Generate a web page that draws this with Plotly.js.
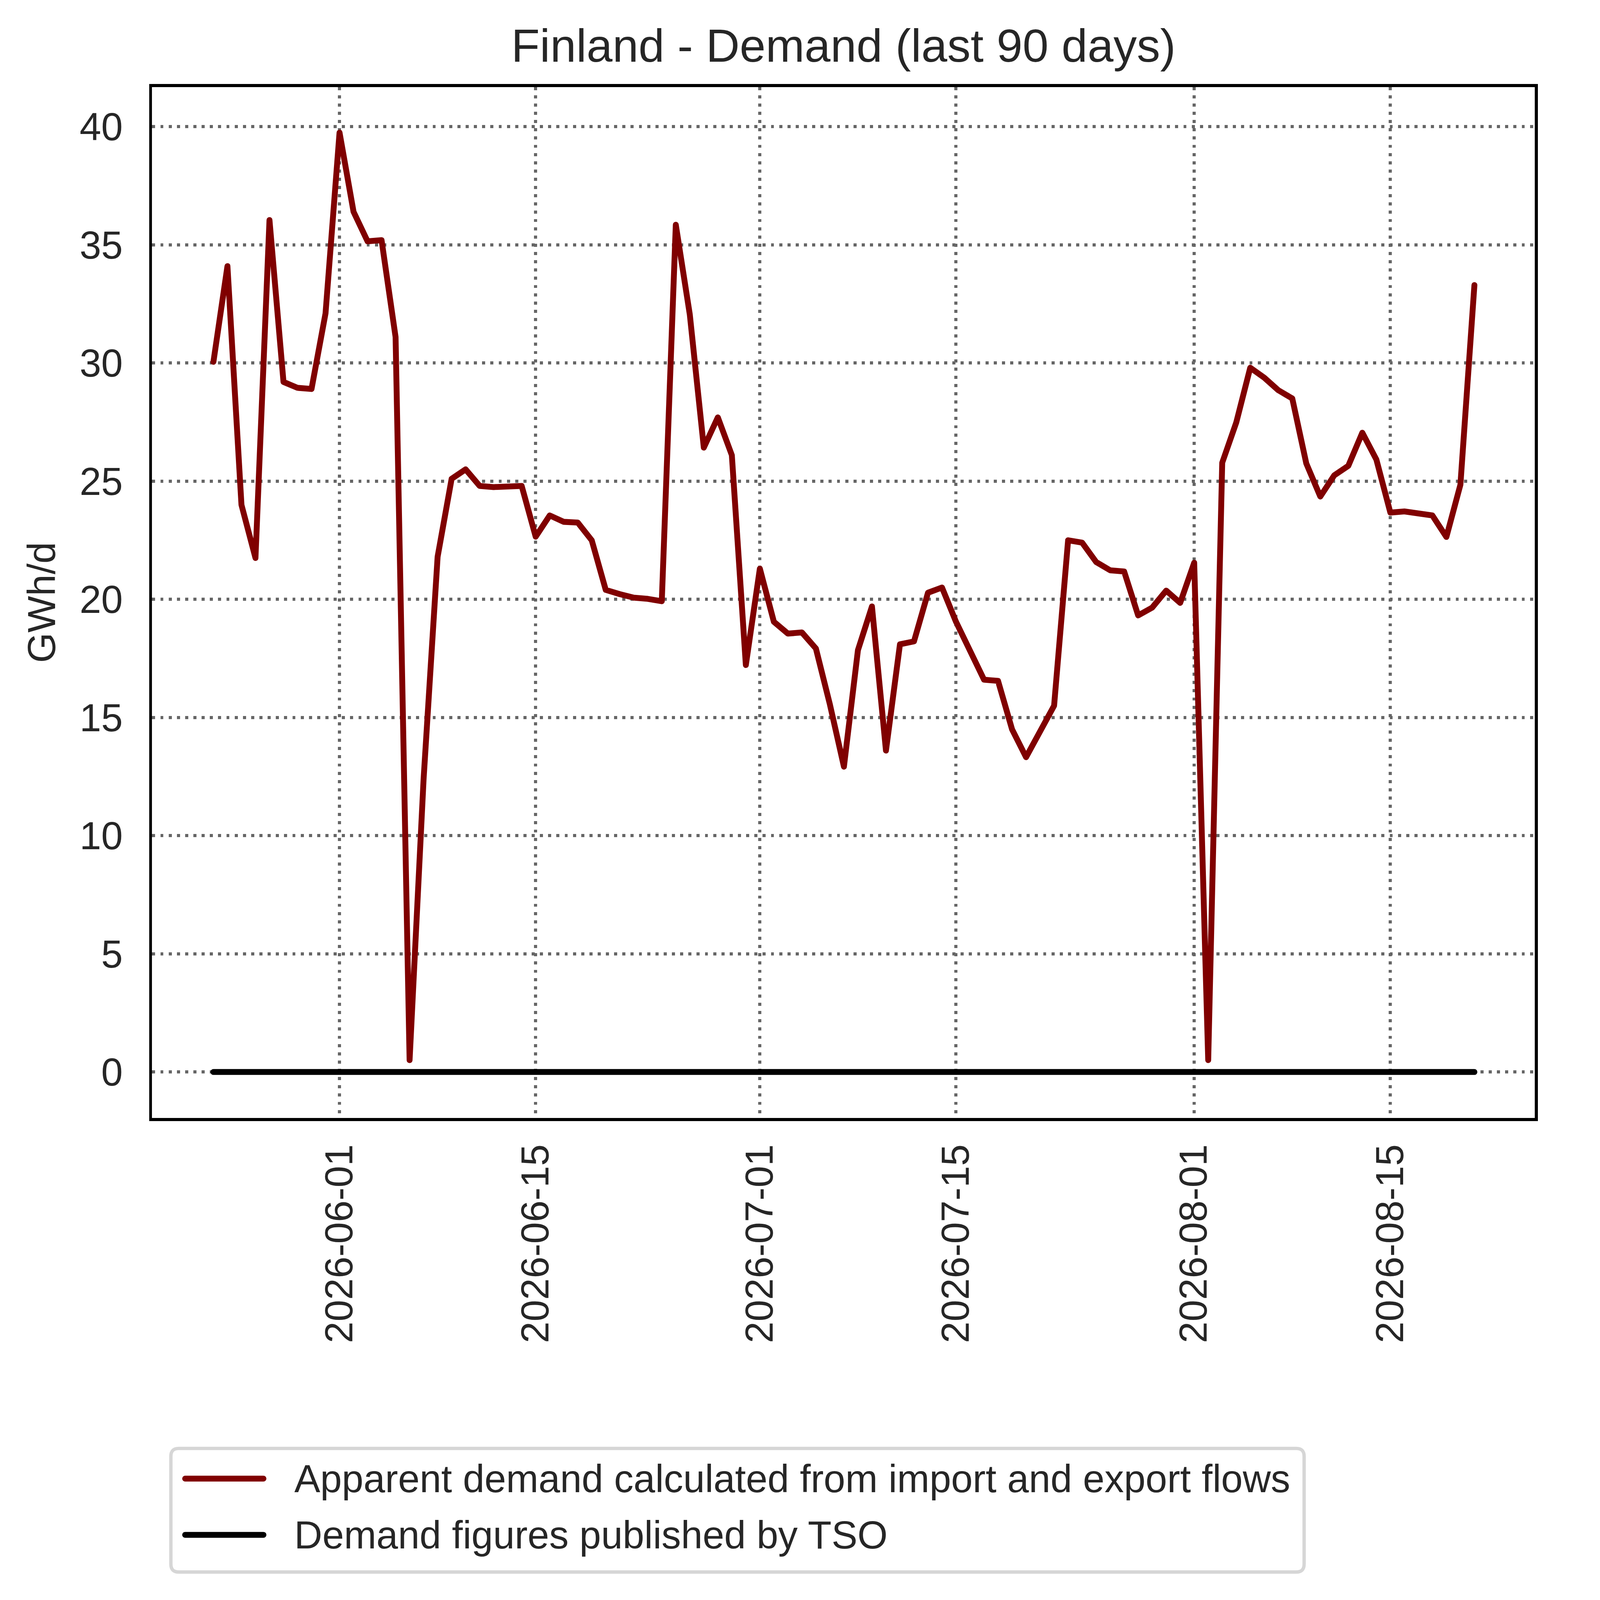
<!DOCTYPE html>
<html>
<head>
<meta charset="utf-8">
<script src="https://cdn.plot.ly/plotly-3.0.1.min.js"></script>
<style>
    html, body { margin: 0; padding: 0; background: #ffffff; overflow: hidden; }
    #chart { transform-origin: 0 0; }
    #chart .js-line { stroke-linecap: round !important; stroke-linejoin: round !important; }
    #chart .shapelayer path { stroke-linecap: round !important; }
</style>
</head>
<body>
<div id="chart" style="width:5598px;height:5721px;"></div>
<script>
// daily values, 2026-05-23 .. 2026-08-21 (91 days)
const startDate = '2026-05-23';
const apparentDemand = [
    30.05, 34.1, 24.0, 21.75, 36.05, 29.2, 28.95, 28.9, 32.1, 39.75,
    36.4, 35.15, 35.2, 31.1, 0.5, 12.4, 21.8, 25.1, 25.5, 24.8,
    24.75, 24.8, 24.8, 22.65, 23.55, 23.28, 23.25, 22.5, 20.4, 20.22,
    20.07, 20.02, 19.92, 35.85, 32.05, 26.42, 27.7, 26.1, 17.22, 21.3,
    19.05, 18.55, 18.6, 17.92, 15.55, 12.92, 17.85, 19.7, 13.6, 18.1,
    18.22, 20.28, 20.5, 19.05, 17.85, 16.6, 16.55, 14.5, 13.32, 14.45,
    15.5, 22.5, 22.4, 21.58, 21.23, 21.18, 19.32, 19.65, 20.37, 19.85,
    21.55, 0.5, 25.78, 27.48, 29.8, 29.38, 28.85, 28.5, 25.75, 24.35,
    25.25, 25.65, 27.05, 25.92, 23.67, 23.72, 23.64, 23.55, 22.64, 24.85,
    33.3
];
const tsoDemand = [
    0, 0, 0, 0, 0, 0, 0, 0, 0, 0, 0, 0, 0, 0, 0, 0, 0, 0, 0, 0,
    0, 0, 0, 0, 0, 0, 0, 0, 0, 0, 0, 0, 0, 0, 0, 0, 0, 0, 0, 0,
    0, 0, 0, 0, 0, 0, 0, 0, 0, 0, 0, 0, 0, 0, 0, 0, 0, 0, 0, 0,
    0, 0, 0, 0, 0, 0, 0, 0, 0, 0, 0, 0, 0, 0, 0, 0, 0, 0, 0, 0,
    0, 0, 0, 0, 0, 0, 0, 0, 0, 0, 0
];
const seriesNames = ['Apparent demand calculated from import and export flows', 'Demand figures published by TSO'];
const seriesColors = ['#800000', '#000000'];
const xTicks = ['2026-06-01', '2026-06-15', '2026-07-01', '2026-07-15', '2026-08-01', '2026-08-15'];
const yTicks = [0, 5, 10, 15, 20, 25, 30, 35, 40];

const W = 5598, H = 5721;
const M = {l: 544, r: 110, t: 311, b: 1724};
const plotW = W - M.l - M.r;
const plotH = H - M.t - M.b;
const TEXT = '#262626';
const FONT = '"Liberation Sans", Arial, sans-serif';

// fit the fixed-size figure into whatever css viewport the browser reports
const fit = Math.min(window.innerWidth / W, window.innerHeight / H);
if (fit > 0 && Math.abs(fit - 1) > 0.001) {
    document.getElementById('chart').style.transform = 'scale(' + fit + ')';
}

function px2x(px) { return (px - M.l) / plotW; }
function px2y(py) { return (H - M.b - py) / plotH; }

function dayList(start, n) {
    const out = [];
    const d0 = new Date(start + 'T00:00:00Z');
    for (let i = 0; i < n; i++) {
        const d = new Date(d0.getTime() + i * 86400000);
        out.push(d.toISOString().slice(0, 10));
    }
    return out;
}

const dates = dayList(startDate, apparentDemand.length);

function __make_trace(yValues, idx) {
    return {
        x: dates, y: yValues, mode: 'lines', name: seriesNames[idx],
        line: {color: seriesColors[idx], width: 21}, showlegend: false
    };
}

const traces = [__make_trace(apparentDemand, 0), __make_trace(tsoDemand, 1)];

// legend drawn by hand so the samples match the long matplotlib handles
function roundedRect(x0, y0, x1, y1, r) {
    const X = px2x, Y = px2y;
    return 'M' + X(x0 + r) + ',' + Y(y0) +
        ' L' + X(x1 - r) + ',' + Y(y0) +
        ' Q' + X(x1) + ',' + Y(y0) + ' ' + X(x1) + ',' + Y(y0 + r) +
        ' L' + X(x1) + ',' + Y(y1 - r) +
        ' Q' + X(x1) + ',' + Y(y1) + ' ' + X(x1 - r) + ',' + Y(y1) +
        ' L' + X(x0 + r) + ',' + Y(y1) +
        ' Q' + X(x0) + ',' + Y(y1) + ' ' + X(x0) + ',' + Y(y1 - r) +
        ' L' + X(x0) + ',' + Y(y0 + r) +
        ' Q' + X(x0) + ',' + Y(y0) + ' ' + X(x0 + r) + ',' + Y(y0) + ' Z';
}

const legendRows = [5287, 5488];
const shapes = [{
    type: 'path', xref: 'paper', yref: 'paper',
    path: roundedRect(611, 5179, 4663, 5621, 28),
    line: {color: '#d6d6d6', width: 12}, fillcolor: '#ffffff', layer: 'above'
}];
const annotations = [];
seriesNames.forEach(function (name, i) {
    shapes.push({
        type: 'line', xref: 'paper', yref: 'paper',
        x0: px2x(662), x1: px2x(942), y0: px2y(legendRows[i]), y1: px2y(legendRows[i]),
        line: {color: seriesColors[i], width: 21}, layer: 'above'
    });
    annotations.push({
        text: name, xref: 'paper', yref: 'paper', x: px2x(1050), y: px2y(legendRows[i]),
        xanchor: 'left', yanchor: 'middle', showarrow: false,
        font: {family: FONT, size: 139, color: TEXT}
    });
});

const layout = {
    width: W, height: H,
    margin: M,
    paper_bgcolor: '#ffffff', plot_bgcolor: '#ffffff',
    font: {family: FONT, size: 139, color: TEXT},
    title: {
        text: 'Finland - Demand (last 90 days)',
        font: {family: FONT, size: 167, color: TEXT},
        x: 0.5, xref: 'paper', xanchor: 'center',
        y: 1 - 162 / H, yref: 'container', yanchor: 'middle'
    },
    xaxis: {
        type: 'date',
        range: ['2026-05-18 15:00', '2026-08-25 07:30'],
        tickmode: 'array', tickvals: xTicks, ticktext: xTicks,
        tickangle: -90, ticks: '', ticklabelstandoff: 28,
        tickfont: {family: FONT, size: 139, color: TEXT},
        showgrid: true, gridcolor: '#666666', gridwidth: 11, griddash: '11px,18.5px',
        showline: true, linecolor: '#000000', linewidth: 11, mirror: true,
        zeroline: false, automargin: false
    },
    yaxis: {
        range: [-1.94, 41.68],
        tickmode: 'array', tickvals: yTicks,
        ticks: '', ticklabelstandoff: 66,
        tickfont: {family: FONT, size: 139, color: TEXT},
        title: {text: 'GWh/d', font: {family: FONT, size: 139, color: TEXT}, standoff: 44},
        showgrid: true, gridcolor: '#666666', gridwidth: 11, griddash: '11px,18.5px',
        showline: true, linecolor: '#000000', linewidth: 11, mirror: true,
        zeroline: false, automargin: false
    },
    shapes: shapes,
    annotations: annotations,
    showlegend: false
};

const config = {displayModeBar: false, staticPlot: true};

Plotly.newPlot('chart', traces, layout, config);
</script>
</body>
</html>
